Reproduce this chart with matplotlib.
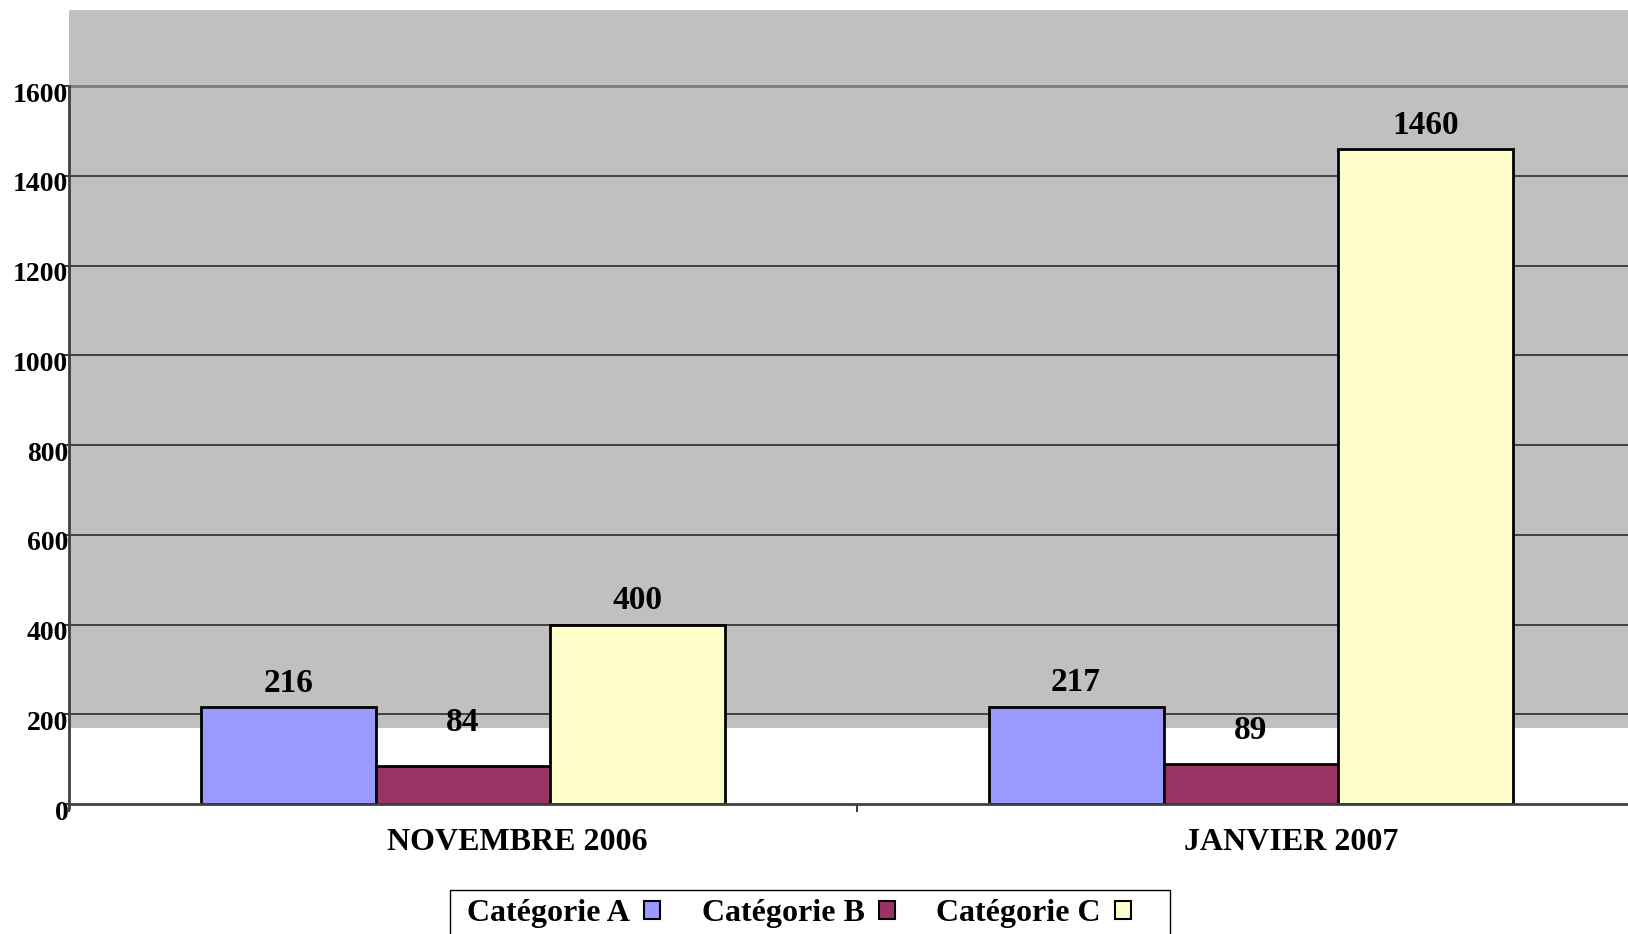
import matplotlib
matplotlib.use("Agg")
import matplotlib.pyplot as plt
import matplotlib.transforms as mtransforms
from matplotlib.patches import Patch, Rectangle
import numpy as np

plt.rcParams['font.family'] = ['Liberation Serif', 'DejaVu Serif']
plt.rcParams['font.weight'] = 'bold'

periodes = ['NOVEMBRE 2006', 'JANVIER 2007']
categories = ['Catégorie A', 'Catégorie B', 'Catégorie C']
valeurs = {
    'Catégorie A': [216, 217],
    'Catégorie B': [84, 89],
    'Catégorie C': [400, 1460],
}
couleurs = ['#9999FF', '#993366', '#FFFFCC']
yticks = [0, 200, 400, 600, 800, 1000, 1200, 1400, 1600]

# decalages des etiquettes (pixels), comme dans l'original
decal_valeurs = {
    'Catégorie A': [24, 24],
    'Catégorie B': [44, 34],
    'Catégorie C': [24, 24],
}
decal_periodes = [54, 40]

fig = plt.figure(figsize=(16.28, 9.34), dpi=100)
ax = fig.add_axes([69 / 1628, 1 - 804 / 934, (1645 - 69) / 1628, (804 - 10) / 934])
ax.set_xlim(-0.5, 1.5)
ax.set_ylim(0, 1770)

# fond gris (zone de traçage)
ax.axhspan(170, 1770, color='#C0C0C0', zorder=0, lw=0)

for y in yticks[1:]:
    col = '#808080' if y == 1600 else '#383838'
    lw = 2.2 if y == 1600 else 1.3
    ax.axhline(y, color=col, lw=lw, zorder=1)

x = np.arange(len(periodes))
largeur = 0.222
px_to_pt = 72 / fig.dpi
for i, cat in enumerate(categories):
    pos = x + (i - 1) * largeur
    ax.bar(pos, valeurs[cat], width=largeur, color=couleurs[i],
           edgecolor='black', linewidth=2.0, zorder=3)
    for xp, v, d in zip(pos, valeurs[cat], decal_valeurs[cat]):
        ax.annotate(str(v), (xp, v), xytext=(0, d * px_to_pt), textcoords='offset points',
                    ha='center', va='center', fontsize=24, fontweight='bold', zorder=4)

for xp, nom, d in zip(x, periodes, decal_periodes):
    ax.annotate(nom, (xp, 0), xytext=(d * px_to_pt, -39 * px_to_pt), textcoords='offset points',
                ha='center', va='center', fontsize=23, fontweight='bold',
                annotation_clip=False)

for s in ['top', 'right']:
    ax.spines[s].set_visible(False)
for s in ['left', 'bottom']:
    ax.spines[s].set_color('#404040')
    ax.spines[s].set_linewidth(2)
    ax.spines[s].set_zorder(5)
ax.spines['left'].set_bounds(-8, 1600)

ax.set_xticks([-0.5, 0.5, 1.5])
ax.set_xticklabels([])
ax.tick_params(axis='x', length=6, width=1.5, color='#404040')
ax.set_yticks(yticks)
ax.set_yticklabels([str(v) for v in yticks], fontsize=20, fontweight='bold')
ax.tick_params(axis='y', length=4, width=1.5, color='#404040', pad=-3.5)
decal = mtransforms.ScaledTranslation(0, -6 / fig.dpi, fig.dpi_scale_trans)
for lab in ax.get_yticklabels():
    lab.set_transform(lab.get_transform() + decal)

# cadre de la legende
fig.patches.append(Rectangle((449.6 / 1628, -0.05), (1170 - 449.6) / 1628, 0.05 + 1 - 890 / 934,
                             transform=fig.transFigure, facecolor='white',
                             edgecolor='black', linewidth=1, zorder=5))

poignees = [Patch(facecolor=c, edgecolor='black', linewidth=1.5) for c in couleurs]
leg = fig.legend(poignees, categories, loc='upper left',
                 bbox_to_anchor=(451 / 1628, 1 - 883 / 934), ncol=3,
                 markerfirst=False, frameon=False,
                 prop={'family': 'Liberation Serif', 'weight': 'bold', 'size': 23},
                 handlelength=0.5, handleheight=0.5, handletextpad=0.45,
                 columnspacing=1.3, borderpad=0.5, borderaxespad=0)
leg.set_zorder(6)

plt.savefig('out.png', dpi=100)
